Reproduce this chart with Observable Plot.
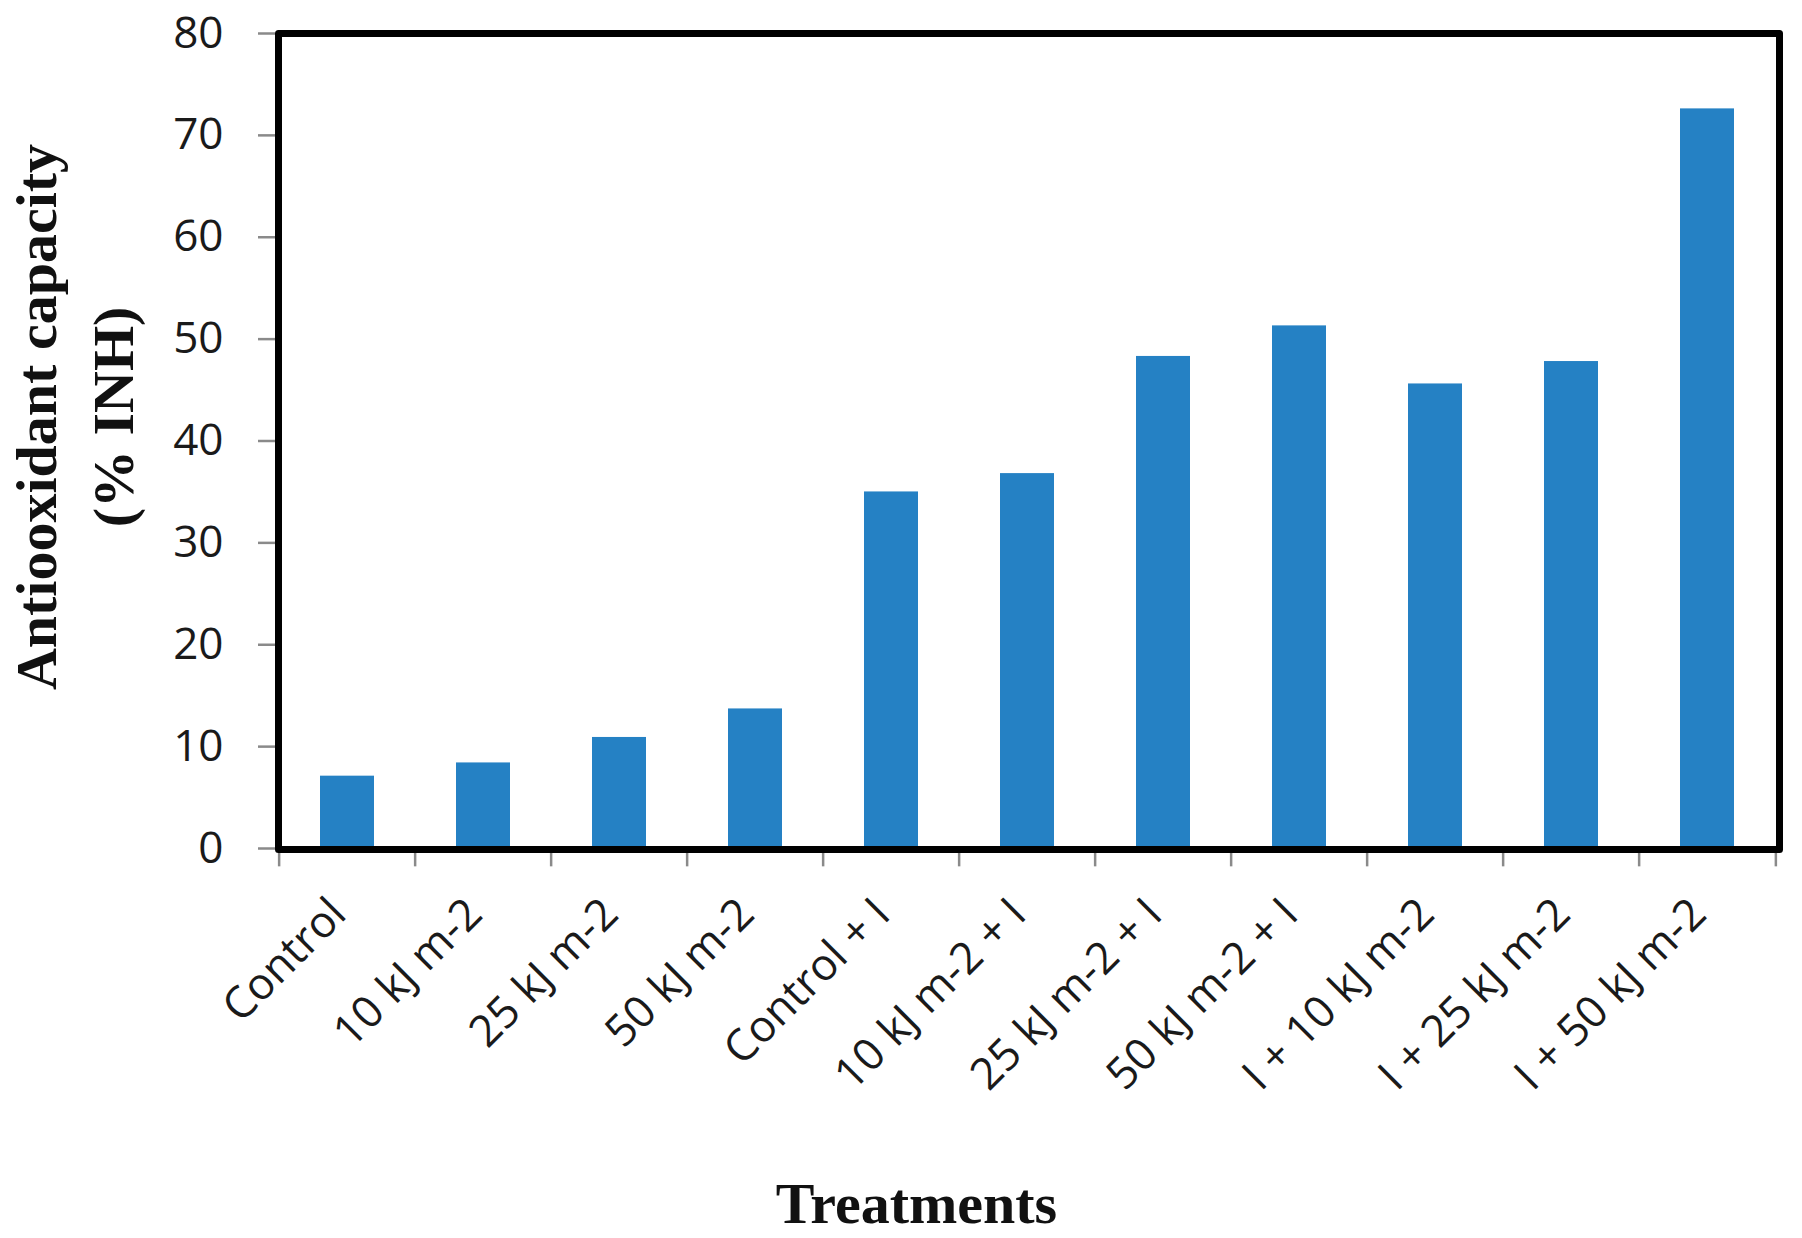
<!DOCTYPE html>
<html>
<head>
<meta charset="utf-8">
<script src="https://cdn.jsdelivr.net/npm/d3@7"></script>
<script src="https://cdn.jsdelivr.net/npm/@observablehq/plot@0.6"></script>
<style>
  html, body { margin: 0; padding: 0; background: #fff; }
  #chart svg { display: block; }
</style>
</head>
<body>
<div id="chart"></div>
<script>
const categories = ["Control", "10 kJ m-2", "25 kJ m-2", "50 kJ m-2", "Control + I", "10 kJ m-2 + I", "25 kJ m-2 + I", "50 kJ m-2 + I", "I + 10 kJ m-2", "I + 25 kJ m-2", "I + 50 kJ m-2"];
const values = [7.1, 8.4, 10.9, 13.7, 35.0, 36.8, 48.3, 51.3, 45.6, 47.8, 72.6];
const yTicks = [0, 10, 20, 30, 40, 50, 60, 70, 80];
const yTitleLines = ["Antiooxidant capacity", "(% INH)"];
const xTitle = "Treatments";

const data = categories.map((c, i) => ({cat: c, val: values[i]}));

const W = 1802, H = 1238;
const mL = 275, mR = 23, mT = 33, mB = 390;
const pIn = 0.6, pOut = 0.3;
const step = (W - mL - mR) / (categories.length - pIn + 2 * pOut);

const chart = Plot.plot({
  width: W,
  height: H,
  marginLeft: mL,
  marginRight: mR,
  marginTop: mT,
  marginBottom: mB,
  style: {fontFamily: "'Open Sans', sans-serif", fontSize: "44px", color: "#1a1a1a", background: "#fff"},
  x: {domain: categories, paddingInner: pIn, paddingOuter: pOut, align: 0.5},
  y: {domain: [0, 80]},
  marks: [
    Plot.barY(data, {x: "cat", y: "val", fill: "#2581c4"}),
    // category boundary tick marks below the axis
    Plot.ruleX(categories, {x: d => d, dx: -step / 2, y1: 0, y2: -1.8, stroke: "#8a8a8a", strokeWidth: 2.5}),
    Plot.ruleX([categories[categories.length - 1]], {x: d => d, dx: step / 2, y1: 0, y2: -1.8, stroke: "#8a8a8a", strokeWidth: 2.5}),
    Plot.axisY({ticks: yTicks, tickSize: 17, tickPadding: 35, stroke: "#8a8a8a", strokeWidth: 2.5, fill: "#1a1a1a", fontSize: 44, label: null}),
    Plot.axisX({tickSize: 0, tickPadding: 58, tickRotate: -45, fill: "#1a1a1a", fontSize: 44, dx: -9, label: null}),
    Plot.frame({stroke: "#000", strokeWidth: 7, strokeLinejoin: "round", insetLeft: 3, insetBottom: -1}),
    Plot.text([yTitleLines.join("\n")], {
      text: d => d, frameAnchor: "left", rotate: -90, dx: -206, dy: -24,
      fontFamily: "Liberation Serif, Times New Roman, serif", fontWeight: "bold", fontSize: 58,
      lineHeight: 1.34, fill: "#111", textAnchor: "middle", lineAnchor: "middle"
    }),
    Plot.text([xTitle], {
      text: d => d, frameAnchor: "bottom", dx: -111, dy: 356,
      fontFamily: "Liberation Serif, Times New Roman, serif", fontWeight: "bold", fontSize: 58,
      fill: "#111", textAnchor: "middle", lineAnchor: "middle"
    })
  ]
});
document.getElementById("chart").appendChild(chart);
</script>
</body>
</html>
